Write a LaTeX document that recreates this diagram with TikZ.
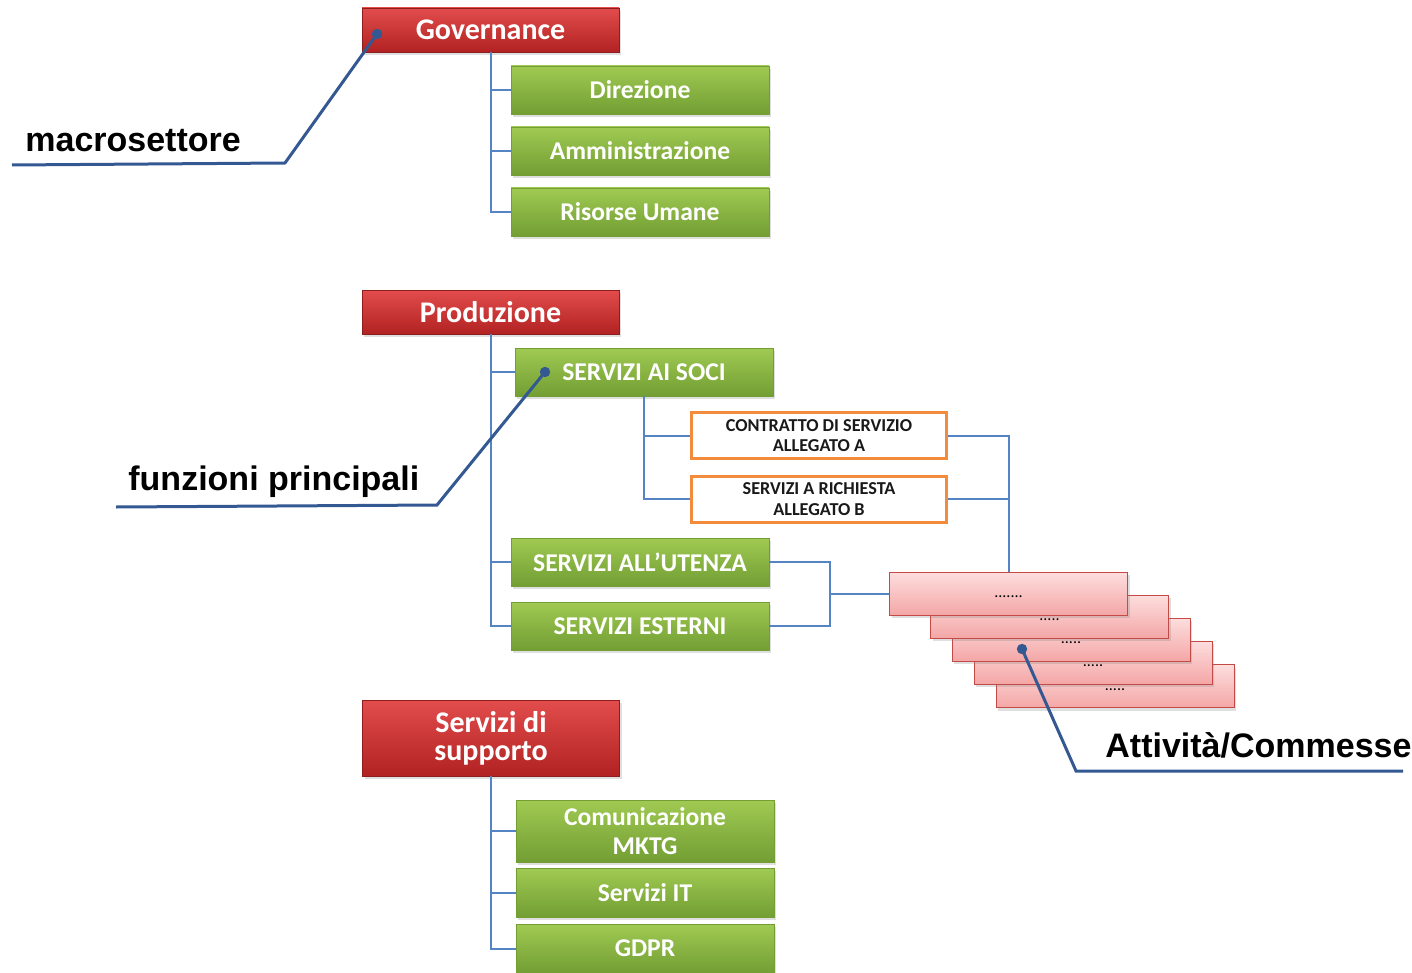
\documentclass[tikz,border=0pt]{standalone}
\usepackage{fontspec}
\setmainfont{Carlito}
\newfontfamily\labelfont{Liberation Sans}
\usepackage{xcolor}
\usepackage{tikz}
\usetikzlibrary{positioning,shadows}

\definecolor{redtop}{RGB}{226,76,76}
\definecolor{redbot}{RGB}{178,34,34}
\definecolor{redline}{RGB}{140,30,30}
\definecolor{greentop}{RGB}{160,202,82}
\definecolor{greenbot}{RGB}{114,158,52}
\definecolor{orangeline}{RGB}{242,140,60}
\definecolor{pinktop}{RGB}{253,222,222}
\definecolor{pinkbot}{RGB}{244,166,166}
\definecolor{pinkline}{RGB}{196,74,72}
\definecolor{connblue}{RGB}{84,132,196}
\definecolor{callblue}{RGB}{52,88,146}

\newcommand{\pcinque}{.....}
\newcommand{\psette}{.......}

\tikzset{
 boxshadow/.style={drop shadow={opacity=0.25, shadow xshift=1pt, shadow yshift=-1.5pt}},
 macro/.style={draw=redline, top color=redtop, bottom color=redbot, boxshadow,
  minimum width=128.5pt, minimum height=22pt, inner sep=0pt, align=center,
  text=white, font=\bfseries\fontsize{15}{14}\selectfont},
 funz/.style={draw=greenbot, top color=greentop, bottom color=greenbot, boxshadow,
  minimum width=129pt, minimum height=24pt, inner sep=0pt, align=center,
  text=white, font=\bfseries\fontsize{12.8}{14.5}\selectfont},
 alleg/.style={draw=orangeline, line width=1.5pt, fill=white,
  minimum width=127.5pt, minimum height=23pt, inner sep=0pt, align=center,
  text=black!90, font=\bfseries\fontsize{9.1}{10.2}\selectfont},
 att/.style={draw=pinkline, top color=pinktop, bottom color=pinkbot, boxshadow,
  minimum width=119pt, minimum height=21.5pt, inner sep=0pt,
  text height=4pt, text depth=0pt, font=\fontsize{8}{8}\selectfont},
 conn/.style={draw=connblue, line width=1pt},
 callout/.style={draw=callblue, line width=1.5pt},
 calltext/.style={font=\labelfont\bfseries\fontsize{17}{18}\selectfont, inner sep=0pt},
}

\begin{document}
\begin{tikzpicture}[x=0.5pt, y=-0.5pt]
\useasboundingbox (0,0) rectangle (1412,973);

% Macrosettori
\node[macro] (gov) at (490.5,30) {Governance};
\node[macro] (prod) at (490.5,312) {Produzione};
\node[macro, minimum height=38pt] (supp) at (491,738) {Servizi di\\supporto};

% Funzioni
\node[funz] (dir) at (640,90) {Direzione};
\node[funz] (amm) at (640,151) {Amministrazione};
\node[funz] (rum) at (640,212) {Risorse Umane};
\node[funz] (soci) at (644,372) {SERVIZI AI SOCI};
\node[funz] (ute) at (640,562) {SERVIZI ALL{\char"0027}UTENZA};
\node[funz] (est) at (640,626) {SERVIZI ESTERNI};
\node[funz, minimum height=31pt] (com) at (645,831) {Comunicazione\\MKTG};
\node[funz, minimum height=24.5pt] (sit) at (645,892.5) {Servizi IT};
\node[funz, minimum height=24.5pt] (gdpr) at (645,948.5) {GDPR};

% Allegati
\node[alleg] (contr) at (819,435.5) {CONTRATTO DI SERVIZIO\\ALLEGATO A};
\node[alleg] (rich) at (819,499) {SERVIZI A RICHIESTA\\ALLEGATO B};

% Attivita (back to front)
\foreach \i/\x/\y/\t in {5/1115/686/\pcinque, 4/1093/662.5/\pcinque, 3/1071/639.5/\pcinque, 2/1049.5/616.5/\pcinque, 1/1008.5/593.5/\psette} {
 \node[att] (pk\i) at (\x,\y) {\t};
}

% Connectors
\foreach \b in {dir,amm,rum} {
 \draw[conn] (gov.south) |- (\b.west);
}
\foreach \b in {soci,ute,est} {
 \draw[conn] (prod.south) |- (\b.west);
}
\foreach \b in {com,sit,gdpr} {
 \draw[conn] (supp.south) |- (\b.west);
}
\draw[conn] (soci.south) |- (contr.west);
\draw[conn] (soci.south) |- (rich.west);
\draw[conn] (contr.east) -| (pk1.north);
\draw[conn] (rich.east) -| (pk1.north);
\coordinate (brk) at (830,593.5);
\draw[conn] (ute.east) -| (brk);
\draw[conn] (est.east) -| (brk);
\draw[conn] (brk) -- (pk1.west);

% Callouts
\coordinate (d1) at (377,34);
\coordinate (k1) at (285,163);
\coordinate (e1) at (12,165);
\coordinate (d2) at (545,372);
\coordinate (k2) at (437,505);
\coordinate (e2) at (116,507);
\coordinate (d3) at (1022,649);
\coordinate (k3) at (1076,771);
\coordinate (e3) at (1403,771);
\foreach \n in {1,2,3} {
 \draw[callout] (d\n) -- (k\n) -- (e\n);
 \fill[callblue] (d\n) circle (2.6pt);
}
\node[calltext, anchor=base west] (lmacro) at (25,152) {macrosettore};
\node[calltext, anchor=base west] (lfunz) at (128,490) {funzioni principali};
\node[calltext, anchor=base west] (latt) at (1105,757) {Attività/Commesse};
\end{tikzpicture}
\end{document}
